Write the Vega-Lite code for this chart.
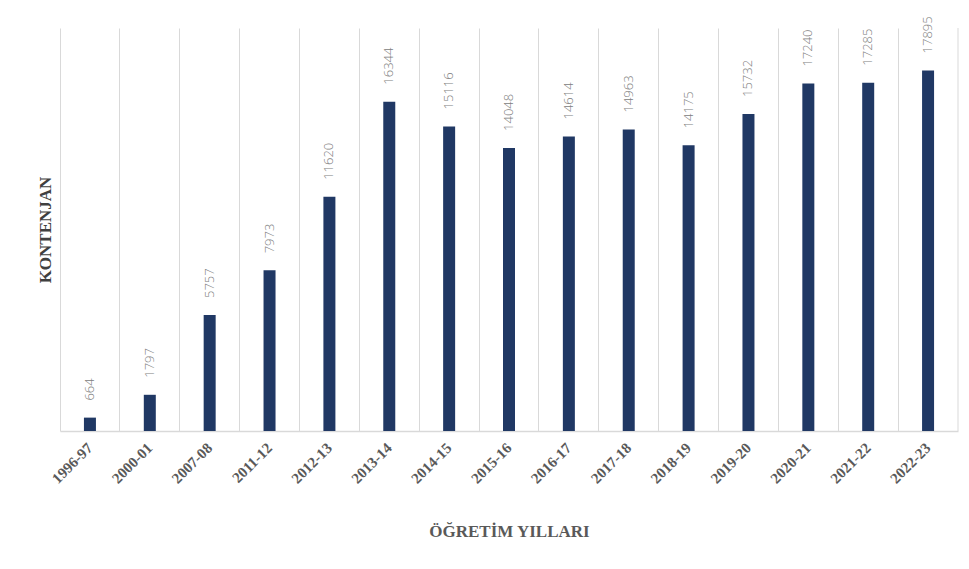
{
  "$schema": "https://vega.github.io/schema/vega-lite/v6.json",
  "autosize": {"type": "none"},
  "width": 898,
  "height": 403,
  "padding": {"left": 60, "top": 28, "right": 11, "bottom": 138},
  "background": "white",
  "config": {"view": {"stroke": null}},
  "data": {"values": [
    {"yil": "1996-97", "kontenjan": 664, "last": false},
    {"yil": "2000-01", "kontenjan": 1797, "last": false},
    {"yil": "2007-08", "kontenjan": 5757, "last": false},
    {"yil": "2011-12", "kontenjan": 7973, "last": false},
    {"yil": "2012-13", "kontenjan": 11620, "last": false},
    {"yil": "2013-14", "kontenjan": 16344, "last": false},
    {"yil": "2014-15", "kontenjan": 15116, "last": false},
    {"yil": "2015-16", "kontenjan": 14048, "last": false},
    {"yil": "2016-17", "kontenjan": 14614, "last": false},
    {"yil": "2017-18", "kontenjan": 14963, "last": false},
    {"yil": "2018-19", "kontenjan": 14175, "last": false},
    {"yil": "2019-20", "kontenjan": 15732, "last": false},
    {"yil": "2020-21", "kontenjan": 17240, "last": false},
    {"yil": "2021-22", "kontenjan": 17285, "last": false},
    {"yil": "2022-23", "kontenjan": 17895, "last": true}
  ]},
  "encoding": {
    "x": {
      "field": "yil", "type": "nominal", "sort": null,
      "scale": {"paddingInner": 0, "paddingOuter": 0,
        "domain": ["1996-97","2000-01","2007-08","2011-12","2012-13","2013-14","2014-15","2015-16","2016-17","2017-18","2018-19","2019-20","2020-21","2021-22","2022-23"]},
      "axis": {
        "title": "ÖĞRETİM YILLARI",
        "titleFont": "Liberation Serif", "titleFontSize": 17, "titleFontWeight": "bold",
        "titleColor": "#595959", "titlePadding": 37,
        "labelFont": "Liberation Serif", "labelFontSize": 15, "labelFontWeight": "bold",
        "labelColor": "#595959", "labelAngle": -45, "labelAlign": "right", "labelBaseline": "middle",
        "labelPadding": 14,
        "ticks": false, "domainColor": "#d9d9d9", "domainWidth": 1.5,
        "grid": true, "gridColor": "#d9d9d9", "gridWidth": 1, "bandPosition": 0
      }
    }
  },
  "layer": [
    {
      "mark": {"type": "rule", "color": "#d9d9d9", "strokeWidth": 1},
      "transform": [{"filter": "datum.last"}],
      "encoding": {
        "x": {"field": "yil", "type": "nominal", "sort": null, "bandPosition": 1},
        "y": {"datum": 0, "type": "quantitative"},
        "y2": {"datum": 20000}
      }
    },
    {
      "mark": {"type": "bar", "color": "#203864", "size": 12},
      "encoding": {
        "y": {
          "field": "kontenjan", "type": "quantitative",
          "scale": {"domain": [0, 20000], "nice": false},
          "axis": {
            "title": "KONTENJAN", "labels": false, "ticks": false, "domain": false, "grid": false,
            "titleFont": "Liberation Serif", "titleFontSize": 17, "titleFontWeight": "bold",
            "titleColor": "#404040", "titlePadding": 6
          }
        }
      }
    },
    {
      "mark": {"type": "text", "angle": 270, "align": "left", "baseline": "middle", "dx": 17,
               "font": "Open Sans", "fontSize": 13, "fontWeight": 300, "color": "#808080"},
      "encoding": {
        "y": {"field": "kontenjan", "type": "quantitative"},
        "text": {"field": "kontenjan", "type": "quantitative", "format": "d"}
      }
    }
  ]
}
